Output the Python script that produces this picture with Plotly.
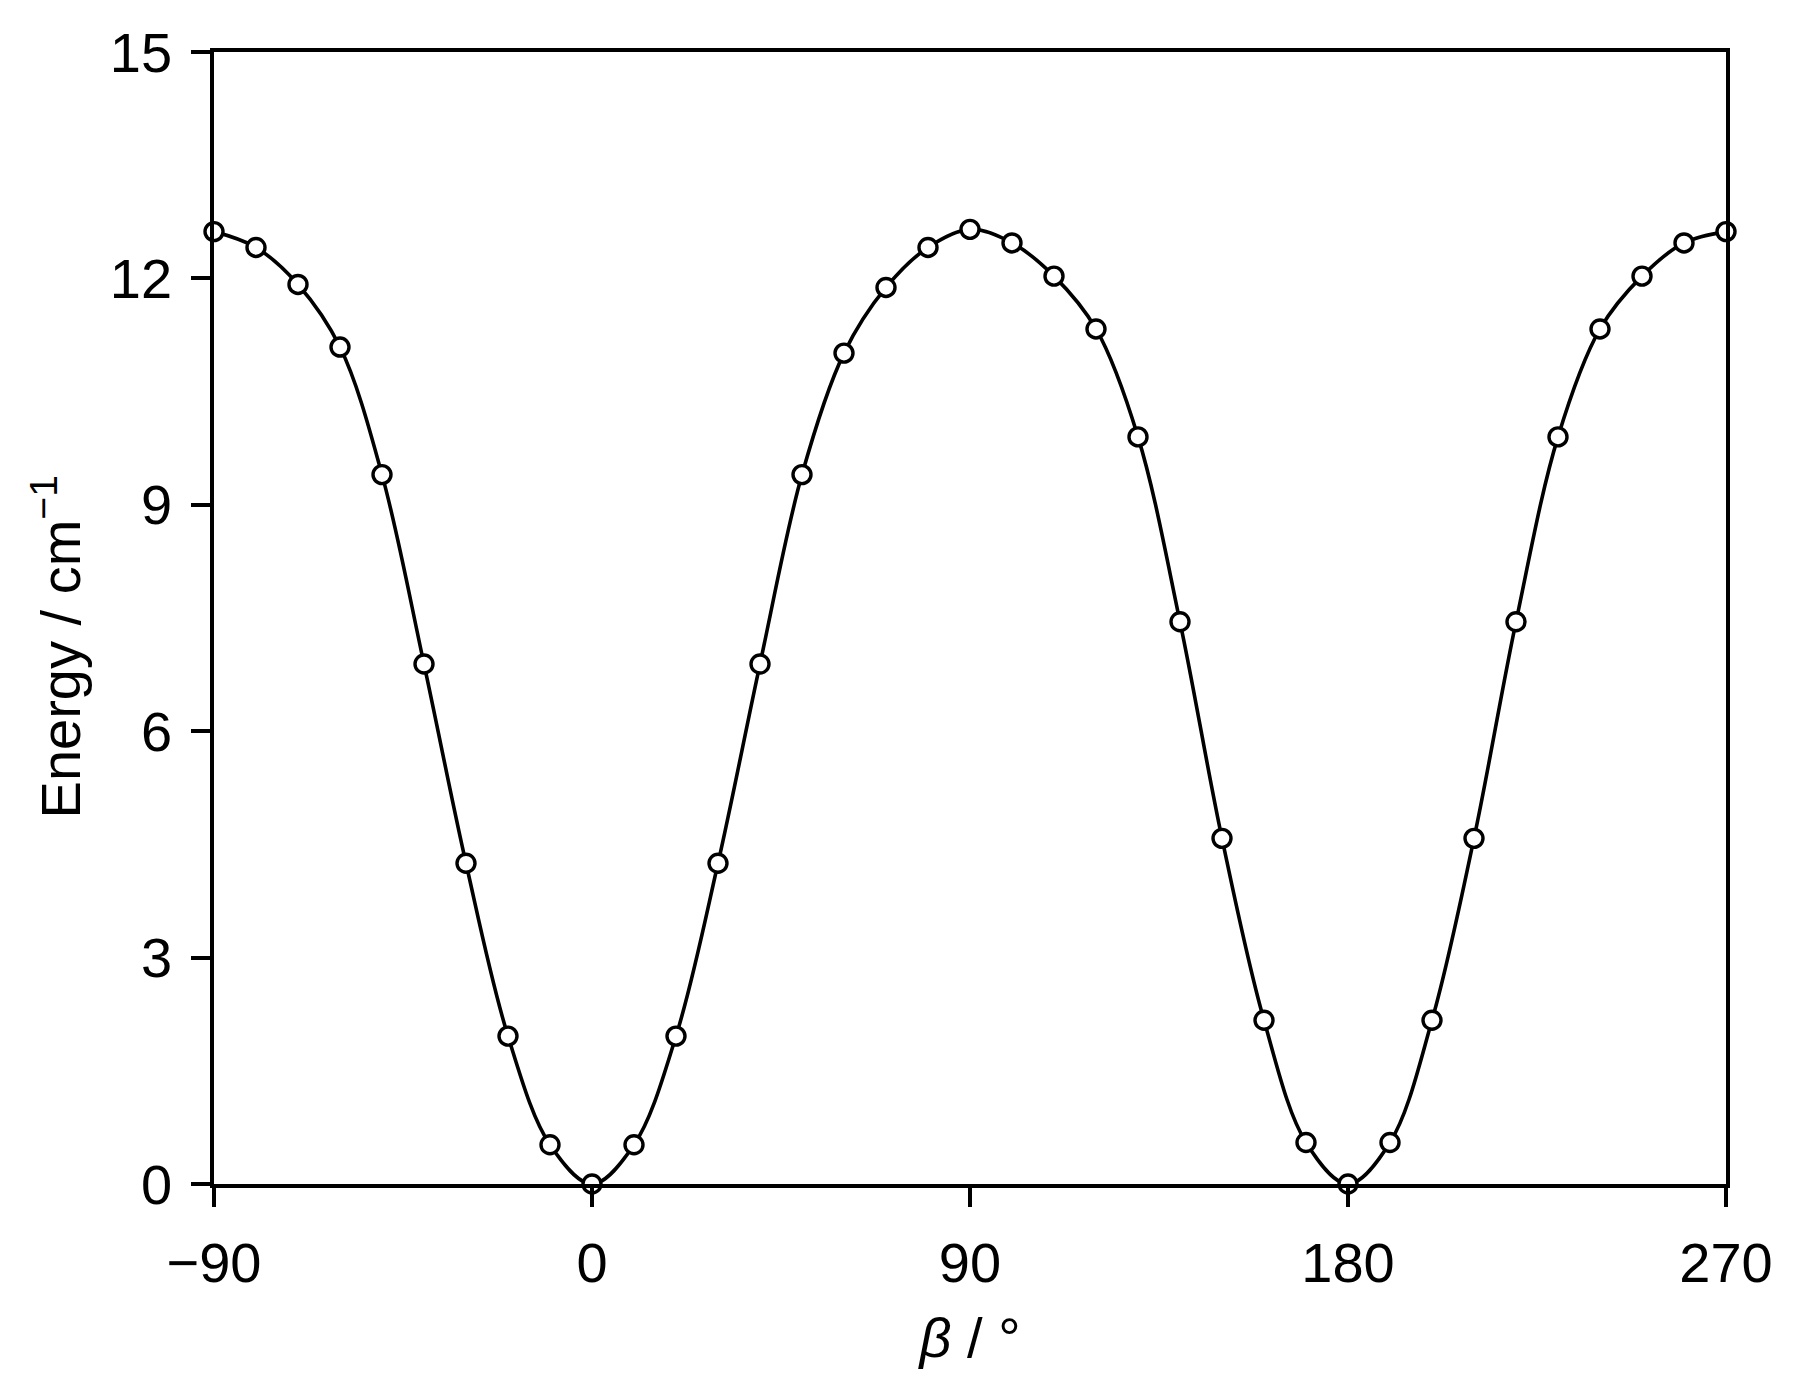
import plotly.graph_objects as go

beta_deg = [-90, -80, -70, -60, -50, -40, -30, -20, -10, 0, 10, 20, 30, 40, 50, 60, 70, 80, 90,
            100, 110, 120, 130, 140, 150, 160, 170, 180, 190, 200, 210, 220, 230, 240, 250, 260, 270]
energy = [12.62, 12.41, 11.92, 11.09, 9.40, 6.89, 4.25, 1.96, 0.52, 0.0, 0.52, 1.96, 4.25, 6.89, 9.40,
          11.01, 11.88, 12.41, 12.65, 12.47, 12.03, 11.33, 9.90, 7.45, 4.58, 2.17, 0.55, 0.0, 0.55,
          2.17, 4.58, 7.45, 9.90, 11.33, 12.03, 12.47, 12.62]
x_ticks = [-90, 0, 90, 180, 270]
x_ticklabels = ["\u221290", "0", "90", "180", "270"]
y_ticks = [0, 3, 6, 9, 12, 15]

font_family = "Liberation Sans, Arial, sans-serif"

fig = go.Figure()
fig.add_trace(go.Scatter(
    x=beta_deg, y=energy, mode="lines+markers",
    line=dict(color="black", width=3.6, shape="spline", smoothing=1.0),
    marker=dict(symbol="circle", size=18, color="white", line=dict(color="black", width=3.4)),
    cliponaxis=False, showlegend=False,
))

fig.update_layout(
    width=1796, height=1388,
    margin=dict(l=206, r=78, t=44, b=212),
    paper_bgcolor="white", plot_bgcolor="white",
    font=dict(family=font_family, size=56, color="black"),
)
fig.update_xaxes(
    range=[-90, 270], tickvals=x_ticks, ticktext=x_ticklabels,
    showline=True, linecolor="black", linewidth=3.5, mirror=True,
    ticks="outside", ticklen=19, tickwidth=3.5, tickcolor="black",
    showgrid=False, zeroline=False, ticklabelstandoff=8,
    title=dict(text="<i>\u03b2</i> / \u00b0", standoff=26, font=dict(size=56)),
)
fig.update_yaxes(
    range=[0, 15], tickvals=y_ticks,
    showline=True, linecolor="black", linewidth=3.5, mirror=True,
    ticks="outside", ticklen=19, tickwidth=3.5, tickcolor="black",
    showgrid=False, zeroline=False, ticklabelstandoff=8,
)
fig.add_annotation(
    text="Energy / cm<sup>\u22121</sup>", textangle=-90,
    xref="paper", yref="paper", x=0, y=0.474, xanchor="center", yanchor="middle",
    xshift=-157, showarrow=False, font=dict(size=56, family=font_family, color="black"),
)

fig.write_html("out.html")
